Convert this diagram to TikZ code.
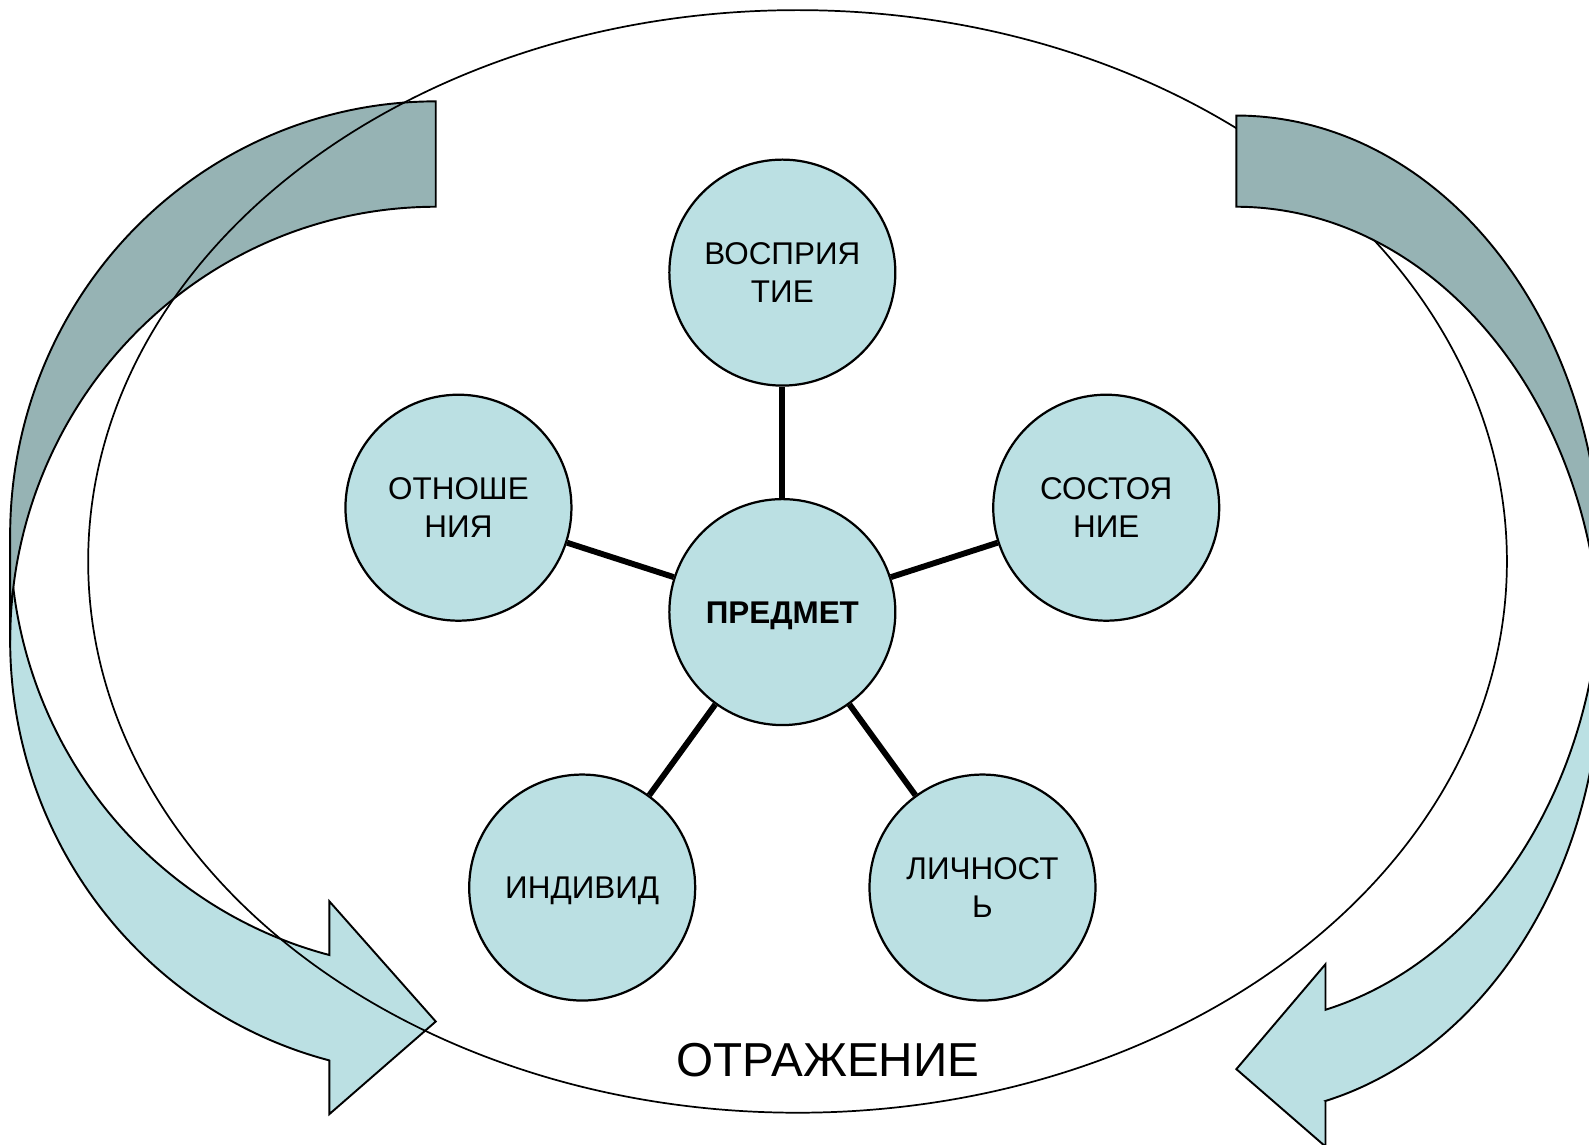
\documentclass[tikz,border=0pt]{standalone}
\usepackage{fontspec}
\setmainfont{Liberation Sans}
\definecolor{lightb}{HTML}{BBE0E3}
\definecolor{darkb}{HTML}{96B3B4}
\begin{document}
\begin{tikzpicture}[x=0.5pt,y=-0.5pt,
  bubble/.style={circle, draw=black, line width=1.1pt, fill=lightb,
    minimum size=111.5pt, inner sep=0pt, align=center,
    font=\fontsize{15.5}{19}\selectfont},
  oneline/.style={text height=11.1pt, text depth=0pt},
  spoke/.style={line width=2.9pt, draw=black},
  band/.style={draw=black, line width=0.95pt, line join=miter},
  ring/.style={draw=black, line width=0.85pt}]
\useasboundingbox (0,0) rectangle (1568,1129);
\clip (0,0) rectangle (1568,1129);

% left curved arrow
\filldraw[band, fill=lightb]
  plot[variable=\t, domain=180:104.48, samples=100] ({430+420*cos(\t)},{528+428*sin(\t)})
  -- (325,889.4) -- (430,1008) -- (325,1099.4) -- (325,1046.4)
  -- plot[variable=\t, domain=104.48:180, samples=100] ({430+420*cos(\t)},{632+428*sin(\t)})
  -- cycle;
\filldraw[band, fill=darkb]
  plot[variable=\t, domain=270:180, samples=100] ({430+420*cos(\t)},{632+428*sin(\t)})
  -- plot[variable=\t, domain=180:270, samples=100] ({430+420*cos(\t)},{528+428*sin(\t)})
  -- cycle;

% big ellipse
\draw[ring] (787,554) ellipse [x radius=350pt, y radius=272pt];

% right curved arrow
\filldraw[band, fill=lightb]
  plot[variable=\t, domain=0:75.85, samples=100] ({1220+360*cos(\t)},{562+448*sin(\t)})
  -- (1308,951.4) -- (1220,1055) -- (1308,1131.4) -- (1308,1086.4)
  -- plot[variable=\t, domain=75.85:0, samples=100] ({1220+360*cos(\t)},{652+448*sin(\t)})
  -- cycle;
\filldraw[band, fill=darkb]
  plot[variable=\t, domain=270:360, samples=100] ({1220+360*cos(\t)},{652+448*sin(\t)})
  -- plot[variable=\t, domain=360:270, samples=100] ({1220+360*cos(\t)},{562+448*sin(\t)})
  -- cycle;

% circles
\node[bubble, oneline] (c)  at (772,604)     {\textbf{ПРЕДМЕТ}};
\node[bubble] (t)  at (772,269)     {ВОСПРИЯ\\ТИЕ};
\node[bubble] (ul) at (452.4,501) {ОТНОШЕ\\НИЯ};
\node[bubble] (ur) at (1091.6,501){СОСТОЯ\\НИЕ};
\node[bubble, oneline] (ll) at (574.5,875.8) {ИНДИВИД};
\node[bubble] (lr) at (969.5,875.8) {ЛИЧНОСТ\\Ь};

\draw[spoke] (c) -- (t);
\draw[spoke] (c) -- (ul);
\draw[spoke] (c) -- (ur);
\draw[spoke] (c) -- (ll);
\draw[spoke] (c) -- (lr);

\node[font=\fontsize{23.5}{28}\selectfont] (refl) at (817,1046) {ОТРАЖЕНИЕ};
\end{tikzpicture}
\end{document}
